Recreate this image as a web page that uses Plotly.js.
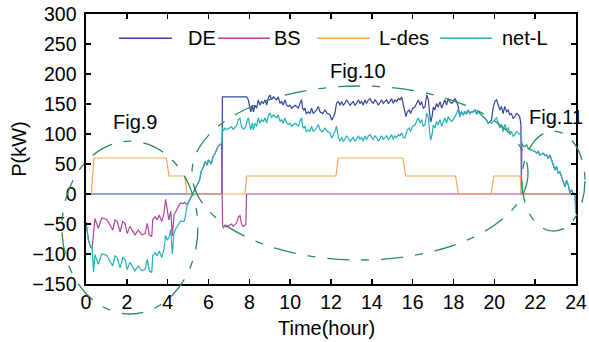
<!DOCTYPE html>
<html>
<head>
<meta charset="utf-8">
<script src="https://cdn.plot.ly/plotly-3.0.1.min.js"></script>
<style>html,body{margin:0;padding:0;background:#fff;}#chart{width:589px;height:342px;}</style>
</head>
<body>
<div id="chart"></div>
<script>
// ---- data ----
const seriesNames = ["DE", "BS", "L-des", "net-L"];

const ldesT = [0, 0.26, 0.39, 3.93, 4.07, 4.83, 4.96, 7.79, 7.87, 12.24, 12.36, 15.51, 15.66, 18.10, 18.25, 19.84, 19.98, 21.26, 21.35, 24];
const ldesV = [0, 0, 60, 60, 30, 30, 0, 0, 30, 30, 60, 60, 30, 30, 0, 0, 30, 30, 0, 0];

const deT = [0, 6.66, 6.68, 7.82, 7.87, 7.95, 8.00, 8.07, 8.15, 8.20, 8.28, 8.36, 8.44, 8.52, 8.60, 8.69, 8.77, 8.85, 8.93,
  9.01, 9.09, 9.18, 9.26, 9.34, 9.42, 9.50, 9.58, 9.66, 9.74, 9.83, 9.91, 9.99, 10.07, 10.15, 10.24, 10.32, 10.40, 10.48,
  10.56, 10.61, 10.67, 10.73, 10.79, 10.89, 10.97, 11.05, 11.13, 11.21, 11.29, 11.38, 11.46, 11.59, 11.70, 11.82, 11.95,
  12.03, 12.11, 12.19, 12.27, 12.36, 12.44, 12.52, 12.60, 12.68, 12.76, 12.85, 12.93, 13.01, 13.09, 13.17, 13.25, 13.34,
  13.42, 13.50, 13.58, 13.66, 13.74, 13.83, 13.91, 13.99, 14.07, 14.15, 14.23, 14.32, 14.40, 14.48, 14.56, 14.64, 14.72,
  14.81, 14.89, 14.97, 15.05, 15.13, 15.21, 15.30, 15.38, 15.46, 15.54, 15.62, 15.67, 15.74, 15.84, 15.90, 16.00, 16.11,
  16.19, 16.28, 16.36, 16.44, 16.52, 16.60, 16.69, 16.77, 16.82, 16.88, 16.95, 17.01, 17.09, 17.17, 17.25, 17.34, 17.42,
  17.50, 17.58, 17.66, 17.74, 17.82, 17.91, 17.99, 18.07, 18.15, 18.23, 18.31, 18.39, 18.48, 18.56, 18.64, 18.72, 18.80,
  18.88, 18.96, 19.05, 19.13, 19.21, 19.29, 19.37, 19.45, 19.54, 19.62, 19.70, 19.78, 19.86, 19.94, 20.02, 20.11, 20.19,
  20.27, 20.35, 20.43, 20.51, 20.60, 20.68, 20.76, 20.84, 20.92, 21.00, 21.08, 21.17, 21.24, 21.30, 21.33, 24];
const deV = [0, 0, 162, 162, 162, 157, 148, 137, 148, 137, 148, 143, 157, 148, 154, 151, 157, 148, 160,
  165, 157, 162, 159, 157, 162, 151, 154, 148, 157, 148, 146, 148, 143, 146, 148, 146, 143, 151,
  157, 143, 140, 143, 134, 137, 134, 143, 134, 137, 140, 146, 137, 134, 140, 134, 132,
  123, 129, 134, 151, 154, 148, 154, 148, 151, 157, 151, 148, 151, 154, 148, 151, 157,
  151, 154, 148, 157, 151, 157, 159, 154, 151, 157, 154, 148, 154, 157, 151, 154, 157,
  151, 154, 159, 151, 157, 154, 159, 157, 162, 148, 132, 129, 137, 140, 134, 143, 145,
  151, 157, 148, 154, 143, 145, 165, 157, 137, 120, 129, 145, 140, 151, 145, 154, 143,
  151, 157, 148, 159, 154, 151, 154, 159, 154, 146, 129, 137, 132, 137, 134, 140, 134,
  137, 137, 140, 134, 137, 134, 132, 129, 126, 123, 118, 120, 123, 143, 154, 157, 148,
  140, 146, 134, 146, 137, 140, 132, 134, 126, 129, 134, 132, 129, 117, 0, 0];

const bsT = [0, 0.12, 0.23, 0.30, 0.44, 0.60, 0.77, 1.01, 1.18, 1.31, 1.42, 1.53, 1.67, 1.80, 1.91, 2.02, 2.15, 2.29, 2.40,
  2.56, 2.73, 2.89, 3.00, 3.10, 3.22, 3.27, 3.38, 3.49, 3.59, 3.71, 3.82, 3.90, 3.98, 4.06, 4.15, 4.23, 4.31, 4.41, 4.52,
  4.64, 4.77, 4.83, 4.96, 5.15, 5.28, 5.40, 5.56, 5.64, 5.75, 5.83, 5.93, 6.00, 6.13, 6.22, 6.33, 6.46, 6.54, 6.64,
  6.69, 6.73, 6.81, 6.89, 6.97, 7.05, 7.13, 7.21, 7.29, 7.38, 7.46, 7.54, 7.62, 7.70, 7.78, 7.83, 7.86, 21.32,
  21.35, 21.42, 21.50, 21.58, 21.66, 21.75, 21.83, 21.91, 21.99, 22.07, 22.15, 22.23, 22.31, 22.40, 22.48, 22.56, 22.64,
  22.72, 22.80, 22.89, 22.97, 23.05, 23.13, 23.21, 23.29, 23.38, 23.46, 23.54, 23.62, 23.70, 23.78, 23.87, 23.95, 23.99, 24];
const bsV = [-47, -77, -89, -90, -41, -57, -40, -42, -52, -60, -43, -46, -63, -46, -49, -66, -54, -63, -68,
  -60, -68, -66, -49, -68, -71, -43, -38, -43, -35, -46, -32, -9, -27, -43, -29, -70, -35, -27, -21,
  -15, -16, -14, -18, -4, 4, 12, 23, 37, 45, 54, 48, 57, 50, 62, 68, 79, 82, 84,
  -52, -57, -52, -55, -53, -52, -50, -54, -51, -48, -38, -36, -50, -54, -52, -50, 0, 0,
  84, 80, 79, 82, 76, 74, 73, 72, 71, 68, 71, 65, 66, 68, 64, 65, 59,
  65, 57, 48, 40, 46, 34, 37, 29, 18, 12, 23, 15, 1, 7, 1, -2, -32, -30];

const netT = [0, 0.12, 0.23, 0.30, 0.37, 0.44, 0.60, 0.77, 1.01, 1.18, 1.31, 1.42, 1.53, 1.67, 1.80, 1.91, 2.02, 2.15, 2.29, 2.40,
  2.56, 2.73, 2.89, 3.00, 3.10, 3.22, 3.27, 3.38, 3.49, 3.59, 3.71, 3.82, 3.90, 3.98, 4.06, 4.15, 4.23, 4.31, 4.41, 4.52,
  4.64, 4.77, 4.83, 4.96, 5.15, 5.28, 5.40, 5.56, 5.64, 5.75, 5.83, 5.93, 6.00, 6.13, 6.22, 6.33, 6.46, 6.54, 6.64,
  6.69, 6.73, 6.81, 6.89, 6.97, 7.05, 7.13, 7.21, 7.29, 7.38, 7.46, 7.54, 7.62, 7.70, 7.78, 7.83,
  7.87, 7.95, 8.00, 8.07, 8.15, 8.20, 8.28, 8.36, 8.44, 8.52, 8.60, 8.69, 8.77, 8.85, 8.93,
  9.01, 9.09, 9.18, 9.26, 9.34, 9.42, 9.50, 9.58, 9.66, 9.74, 9.83, 9.91, 9.99, 10.07, 10.15, 10.24, 10.32, 10.40, 10.48,
  10.56, 10.61, 10.67, 10.73, 10.79, 10.89, 10.97, 11.05, 11.13, 11.21, 11.29, 11.38, 11.46, 11.59, 11.70, 11.82, 11.95,
  12.03, 12.11, 12.19, 12.27, 12.36, 12.44, 12.52, 12.60, 12.68, 12.76, 12.85, 12.93, 13.01, 13.09, 13.17, 13.25, 13.34,
  13.42, 13.50, 13.58, 13.66, 13.74, 13.83, 13.91, 13.99, 14.07, 14.15, 14.23, 14.32, 14.40, 14.48, 14.56, 14.64, 14.72,
  14.81, 14.89, 14.97, 15.05, 15.13, 15.21, 15.30, 15.38, 15.46, 15.54, 15.62, 15.67, 15.74, 15.84, 15.90, 16.00, 16.11,
  16.19, 16.28, 16.36, 16.44, 16.52, 16.60, 16.69, 16.77, 16.82, 16.88, 16.95, 17.01, 17.09, 17.17, 17.25, 17.34, 17.42,
  17.50, 17.58, 17.66, 17.74, 17.82, 17.91, 17.99, 18.07, 18.15, 18.23, 18.31, 18.39, 18.48, 18.56, 18.64, 18.72, 18.80,
  18.88, 18.96, 19.05, 19.13, 19.21, 19.29, 19.37, 19.45, 19.54, 19.62, 19.70, 19.78, 19.86, 19.94, 20.02, 20.11, 20.19,
  20.27, 20.35, 20.43, 20.51, 20.60, 20.68, 20.76, 20.84, 20.92, 21.00, 21.08, 21.17, 21.24, 21.30,
  21.35, 21.42, 21.50, 21.58, 21.66, 21.75, 21.83, 21.91, 21.99, 22.07, 22.15, 22.23, 22.31, 22.40, 22.48, 22.56, 22.64,
  22.72, 22.80, 22.89, 22.97, 23.05, 23.13, 23.21, 23.29, 23.38, 23.46, 23.54, 23.62, 23.70, 23.78, 23.87, 23.95, 23.99, 24];
const netV = [-47, -77, -89, -90, -130, -101, -117, -100, -102, -112, -120, -103, -106, -123, -106, -109, -126, -114, -123, -128,
  -120, -128, -126, -109, -128, -131, -103, -98, -103, -95, -106, -92, -69, -77, -73, -59, -100, -65, -57, -51,
  -45, -46, -44, -18, -4, 4, 12, 23, 37, 45, 54, 48, 57, 50, 62, 68, 79, 82, 84,
  110, 105, 110, 107, 109, 110, 112, 108, 111, 114, 124, 126, 112, 108, 110, 112,
  120, 127, 118, 107, 118, 107, 118, 113, 127, 118, 124, 121, 127, 118, 130,
  135, 127, 132, 129, 127, 132, 121, 124, 118, 127, 118, 116, 118, 113, 116, 118, 116, 113, 121,
  127, 113, 110, 113, 104, 107, 104, 113, 104, 107, 110, 116, 107, 104, 110, 104, 102,
  93, 99, 104, 113, 94, 88, 94, 88, 91, 97, 91, 88, 91, 94, 88, 91, 97,
  91, 94, 88, 97, 91, 97, 99, 94, 91, 97, 94, 88, 94, 97, 91, 94, 97,
  91, 94, 99, 91, 97, 94, 99, 97, 102, 94, 94, 99, 107, 110, 104, 113, 115,
  121, 127, 118, 124, 113, 115, 135, 127, 107, 90, 99, 115, 110, 121, 115, 124, 113,
  121, 127, 118, 129, 124, 121, 124, 129, 134, 142, 129, 137, 132, 137, 134, 140, 134,
  137, 137, 140, 134, 137, 134, 132, 129, 126, 123, 118, 120, 118, 122, 124, 127, 118,
  110, 116, 104, 116, 107, 110, 102, 104, 96, 99, 104, 102, 99, 100,
  84, 80, 79, 82, 76, 74, 73, 72, 71, 68, 71, 65, 66, 68, 64, 65, 59,
  65, 57, 48, 40, 46, 34, 37, 29, 18, 12, 23, 15, 1, 7, 1, -2, -32, -30];

const xTickVals = [0, 2, 4, 6, 8, 10, 12, 14, 16, 18, 20, 22, 24];
const yTickVals = [-150, -100, -50, 0, 50, 100, 150, 200, 250, 300];
const figLabels = ["Fig.9", "Fig.10", "Fig.11"];
const xTitle = "Time(hour)";
const yTitle = "P(kW)";

// ---- styling / layout (not data) ----
const colors = ["#34449f", "#b0439f", "#f6a65a", "#22b2b6"];
const FONT = "Liberation Sans, Arial, sans-serif";
const XR = [0, 24], YR = [-150, 300];
const px = t => (t - XR[0]) / (XR[1] - XR[0]);
const py = v => (v - YR[0]) / (YR[1] - YR[0]);

const traces = [
  {x: deT, y: deV, name: seriesNames[0]},
  {x: bsT, y: bsV, name: seriesNames[1]},
  {x: ldesT, y: ldesV, name: seriesNames[2]},
  {x: netT, y: netV, name: seriesNames[3]}
].map((tr, i) => Object.assign(tr, {
  type: "scatter", mode: "lines", line: {color: colors[i], width: 1.2}, showlegend: false, hoverinfo: "skip"
}));

// ellipse bounds in data units: [t0, t1, v0, v1]
const ellipses = [[-1.18, 5.48, -200, 88], [5.19, 21.65, -110, 180], [21.35, 24.44, -62, 105]];
const shapes = ellipses.map(e => ({
  type: "circle", xref: "paper", yref: "paper", layer: "above",
  x0: px(e[0]), x1: px(e[1]), y0: py(e[2]), y1: py(e[3]),
  line: {color: "#2a8a5a", width: 1.3, dash: "22px,12px,8px,12px"}
}));

// custom legend (long line samples like the reference)
const legendPos = [[0.0673, 0.1755, 0.2041], [0.2694, 0.3755, 0.3796], [0.4714, 0.5796, 0.5939], [0.7224, 0.8286, 0.8449]];
const legY = 0.91;
legendPos.forEach((p, i) => shapes.push({
  type: "line", xref: "paper", yref: "paper", x0: p[0], x1: p[1], y0: legY, y1: legY,
  line: {color: colors[i], width: 1.5}
}));

const annotations = legendPos.map((p, i) => ({
  xref: "paper", yref: "paper", x: p[2], y: legY, xanchor: "left", yanchor: "middle",
  text: seriesNames[i], showarrow: false, font: {family: FONT, size: 20, color: "#000"}
}));
const figPos = [[2.4, 120], [13.3, 205], [23.0, 128]];
figLabels.forEach((t, i) => annotations.push({
  x: figPos[i][0], y: figPos[i][1], xref: "x", yref: "y", text: t, showarrow: false,
  xanchor: "center", yanchor: "middle", font: {family: FONT, size: 20, color: "#000"}
}));
annotations.push({xref: "paper", yref: "paper", x: 0.49, y: -0.163, text: xTitle, showarrow: false,
  xanchor: "center", yanchor: "middle", font: {family: FONT, size: 20, color: "#000"}});
annotations.push({xref: "paper", yref: "paper", x: -0.137, y: 0.5, text: yTitle, showarrow: false, textangle: -90,
  xanchor: "center", yanchor: "middle", font: {family: FONT, size: 20, color: "#000"}});

const axisCommon = {
  showgrid: false, zeroline: false, showline: true, linecolor: "#000", linewidth: 1.6, mirror: "ticks",
  ticks: "inside", ticklen: 5, tickwidth: 1.4, tickcolor: "#000",
  tickfont: {family: FONT, size: 19.5, color: "#000"}
};

const layout = {
  width: 589, height: 342,
  margin: {l: 86, r: 13, t: 14, b: 58, pad: 0},
  paper_bgcolor: "#fff", plot_bgcolor: "#fff",
  showlegend: false,
  xaxis: Object.assign({}, axisCommon, {range: XR, tickmode: "array", tickvals: xTickVals, ticklabelstandoff: 0}),
  yaxis: Object.assign({}, axisCommon, {range: YR, tickmode: "array", tickvals: yTickVals, ticklabelstandoff: 4}),
  shapes: shapes,
  annotations: annotations
};

Plotly.newPlot("chart", traces, layout, {staticPlot: true, displayModeBar: false});
</script>
</body>
</html>
